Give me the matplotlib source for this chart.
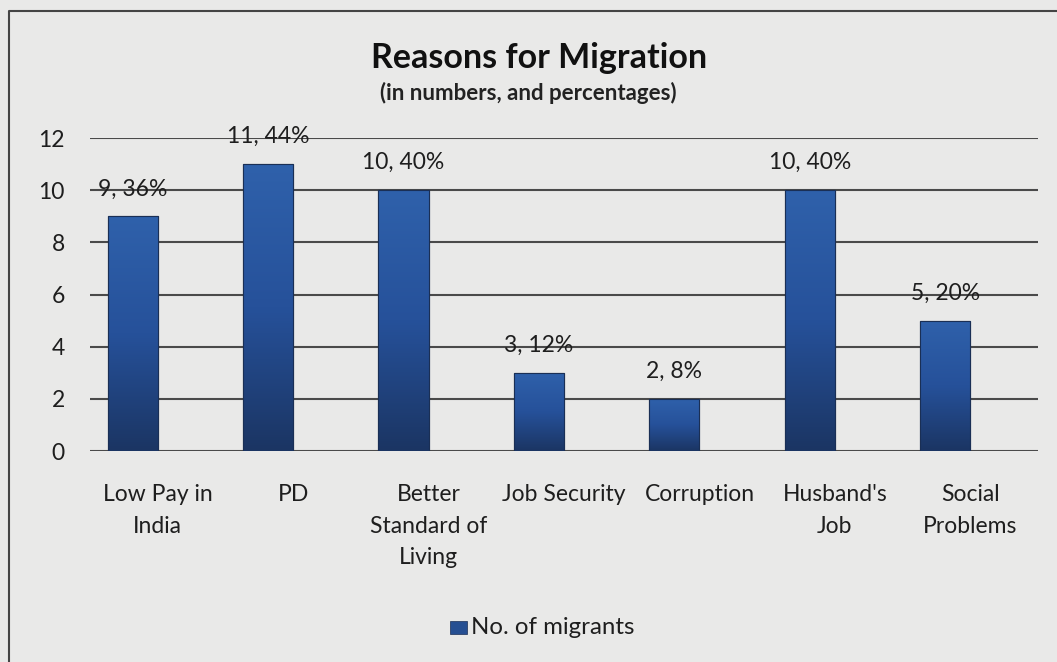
import numpy as np
import matplotlib
matplotlib.use("Agg")
import matplotlib.pyplot as plt
from matplotlib.patches import Rectangle
from matplotlib.colors import LinearSegmentedColormap

categories = ["Low Pay in\nIndia", "PD", "Better\nStandard of\nLiving", "Job Security",
              "Corruption", "Husband's\nJob", "Social\nProblems"]
migrants = [9, 11, 10, 3, 2, 10, 5]
percentages = [36, 44, 40, 12, 8, 40, 20]
y_ticks = [0, 2, 4, 6, 8, 10, 12]

plt.rcParams['font.family'] = ['Lato', 'DejaVu Sans']
bg = "#e9e9e8"
text_col = "#1e1e1e"

fig = plt.figure(figsize=(10.57, 6.62), dpi=100, facecolor=bg)
ax = fig.add_axes([0.0851, 0.3187, 0.897, 0.4728])
ax.set_facecolor(bg)

x = np.arange(len(categories))
bar_w = 0.37
# the series sits in the left slot of a two-slot cluster
bar_x = x - bar_w / 2
bars = ax.bar(bar_x, migrants, width=bar_w, color="#2a559a", edgecolor="#1a2f55",
              linewidth=0.8, zorder=3)

# vertical gradient inside each bar
grad = np.linspace(0, 1, 256).reshape(-1, 1)
cmap = LinearSegmentedColormap.from_list("bar", ["#1b3563", "#26519a", "#2f61ab"])
for b in bars:
    x0, w, h = b.get_x(), b.get_width(), b.get_height()
    im = ax.imshow(grad, cmap=cmap, aspect="auto", origin="lower",
                   extent=[x0, x0 + w, 0, h], zorder=3.5)
    im.set_clip_path(b)
    ax.add_patch(Rectangle((x0, 0), w, h, fill=False, edgecolor="#1a2f55",
                           linewidth=0.8, zorder=4))

for xi, v, p in zip(bar_x, migrants, percentages):
    ax.text(xi, v + 1.05, f"{v}, {p}%", ha="center", va="center",
            fontsize=16.5, color=text_col, zorder=5)

ax.set_xlim(-0.5, len(categories) - 0.5)
ax.set_ylim(0, 12)
ax.set_yticks(y_ticks)
ax.set_yticklabels([str(t) for t in y_ticks], fontsize=16.5, color=text_col)
ax.set_xticks(x)
ax.set_xticklabels(categories, fontsize=16.5, color=text_col, linespacing=1.6, va="top")
ax.tick_params(axis="y", length=0, pad=18)
ax.tick_params(axis="x", length=0, pad=24)
for s in ax.spines.values():
    s.set_visible(False)
for t in y_ticks:
    ax.axhline(t, color="#4a4a4a", linewidth=1.5, zorder=1)

fig.text(0.51, 0.913, "Reasons for Migration", ha="center", va="center",
         fontsize=24.5, fontweight="bold", color="#111111")
fig.text(0.4995, 0.860, "(in numbers, and percentages)", ha="center", va="center",
         fontsize=16, fontweight="bold", color="#222222")

# legend entry
fig.patches.append(Rectangle((0.4262, 0.0425), 0.0155, 0.0195, transform=fig.transFigure,
                             facecolor="#264f92", edgecolor="#1a2f55", linewidth=0.5))
fig.text(0.4455, 0.0515, "No. of migrants", ha="left", va="center",
         fontsize=17.3, color=text_col)

# chart frame
fig.lines.append(plt.Line2D([0.0085, 0.0085, 1.0], [-0.01, 0.983, 0.983],
                            transform=fig.transFigure, color="#444444", linewidth=1.5))

fig.savefig("out.png", dpi=100, facecolor=bg)
